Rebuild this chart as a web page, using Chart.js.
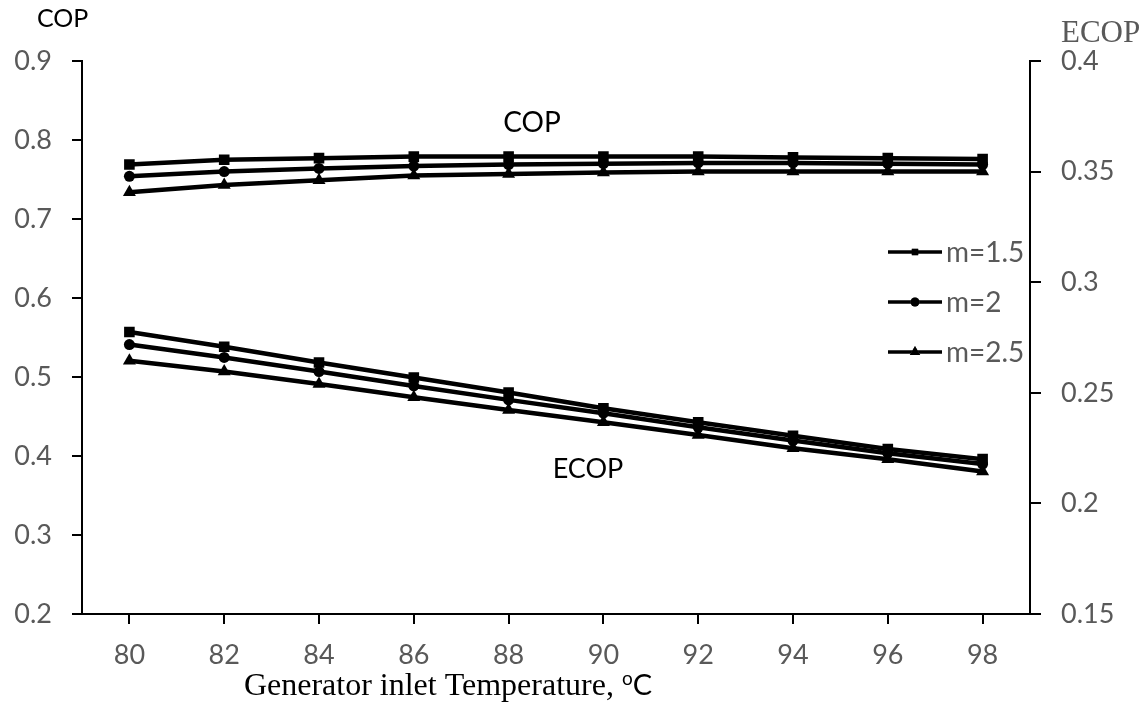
<!DOCTYPE html>
<html><head><meta charset="utf-8">
<script src="https://cdn.jsdelivr.net/npm/chart.js@4/dist/chart.umd.min.js"></script>
<style>html,body{margin:0;padding:0;background:#fff}#wrap{width:1147px;height:711px;position:relative}</style>
</head><body><div id="wrap"><canvas id="c" width="1147" height="711"></canvas></div>
<script>
const temperatures = ['80','82','84','86','88','90','92','94','96','98'];
const seriesLabels = ['m=1.5','m=2','m=2.5'];
const copM15 = [0.769,0.775,0.777,0.779,0.779,0.779,0.779,0.778,0.777,0.776];
const copM2  = [0.754,0.760,0.764,0.767,0.769,0.770,0.771,0.771,0.770,0.769];
const copM25 = [0.734,0.743,0.749,0.755,0.757,0.759,0.760,0.760,0.760,0.760];
const ecopM15 = [0.2775,0.2708,0.2637,0.2569,0.2501,0.2430,0.2367,0.2306,0.2246,0.2200];
const ecopM2  = [0.2718,0.2660,0.2596,0.2531,0.2468,0.2408,0.2344,0.2284,0.2227,0.2178];
const ecopM25 = [0.2645,0.2596,0.2540,0.2480,0.2422,0.2367,0.2309,0.2249,0.2200,0.2144];
const copTicks = [0.2,0.3,0.4,0.5,0.6,0.7,0.8,0.9];
const ecopTicks = [0.15,0.2,0.25,0.3,0.35,0.4];

const styles = ['rect','circle','triangle'];
const radii = [7.5,5.5,7.5];
function ds(label, data, i, axis, showLegend){
  return {label, data, yAxisID: axis, borderColor:'#000', backgroundColor:'#000',
    borderWidth:4.5, pointStyle:styles[i], pointRadius:radii[i], pointHoverRadius:radii[i],
    pointBorderWidth:0, tension:0, fill:false, legendIdx: showLegend ? i : -1};
}
const datasets = [
  ds(seriesLabels[0], copM15, 0, 'y', true),
  ds(seriesLabels[1], copM2, 1, 'y', true),
  ds(seriesLabels[2], copM25, 2, 'y', true),
  ds(seriesLabels[0], ecopM15, 0, 'y2', false),
  ds(seriesLabels[1], ecopM2, 1, 'y2', false),
  ds(seriesLabels[2], ecopM25, 2, 'y2', false)
];

const SANS = 'Lato, "Open Sans", sans-serif';
const SERIF = '"Liberation Serif", "DejaVu Serif", serif';
const GRAY = '#595959';

const overlay = {
  id:'overlay',
  afterDraw(chart){
    const ctx = chart.ctx;
    ctx.save();
    ctx.fillStyle = '#000';
    ctx.font = '25px ' + SANS;
    ctx.textAlign = 'left'; ctx.textBaseline = 'middle';
    ctx.fillText('COP', 37, 19);
    ctx.fillStyle = GRAY;
    ctx.font = '31px ' + SERIF;
    ctx.fillText('ECOP', 1061, 34);
    ctx.fillStyle = '#000';
    ctx.font = '28px ' + SANS;
    ctx.textAlign = 'center';
    ctx.fillText('COP', 532, 123);
    ctx.font = '27px ' + SANS;
    ctx.fillText('ECOP', 588, 469);
    // x title
    ctx.textAlign = 'left'; ctx.textBaseline = 'alphabetic';
    const t1 = 'Generator inlet Temperature, ';
    ctx.font = '32px ' + SERIF;
    const w1 = ctx.measureText(t1).width;
    ctx.font = '19px ' + SANS;
    const w2 = ctx.measureText('o').width;
    ctx.font = '29px ' + SANS;
    const w3 = ctx.measureText('C').width;
    let x = 448 - (w1 + w2 + w3)/2;
    const base = 695;
    ctx.font = '32px ' + SERIF; ctx.fillText(t1, x, base); x += w1;
    ctx.font = '19px ' + SANS; ctx.fillText('o', x, base - 10); x += w2;
    ctx.font = '29px ' + SANS; ctx.fillText('C', x, base);
    // legend
    const rows = [252, 302, 352];
    chart.data.datasets.forEach((d) => {
      if (d.legendIdx < 0) return;
      const y = rows[d.legendIdx];
      ctx.strokeStyle = '#000'; ctx.lineWidth = 3.5;
      ctx.beginPath(); ctx.moveTo(888, y); ctx.lineTo(942, y); ctx.stroke();
      Chart.helpers.drawPoint(ctx, {pointStyle: d.pointStyle, radius: d.legendIdx===2 ? 6 : 4.5, borderWidth: 0}, 915, y);
      ctx.fillStyle = '#000';
      ctx.fill();
      ctx.fillStyle = GRAY;
      ctx.font = '28px ' + SANS;
      ctx.textAlign = 'left'; ctx.textBaseline = 'middle';
      ctx.fillText(d.label, 946, y + 1);
    });
    ctx.restore();
  }
};

new Chart(document.getElementById('c'), {
  type:'line',
  data:{labels: temperatures, datasets},
  options:{
    responsive:false, animation:false,
    layout:{padding:{top:61, left:0, right:0, bottom:0}},
    plugins:{legend:{display:false}, tooltip:{enabled:false}},
    scales:{
      x:{
        offset:true,
        grid:{display:true, drawOnChartArea:false, drawTicks:true, tickLength:10, color:'#000', lineWidth:2, offset:false},
        border:{display:true, color:'#000', width:2},
        ticks:{color:GRAY, font:{family:SANS, size:27}, padding:15, maxRotation:0, autoSkip:false},
        afterFit(s){ s.height = 97; }
      },
      y:{
        position:'left', min:0.2, max:0.9,
        afterBuildTicks(s){ s.ticks = copTicks.map(v=>({value:v})); },
        grid:{display:true, drawOnChartArea:false, drawTicks:true, tickLength:10, color:'#000', lineWidth:2},
        border:{display:true, color:'#000', width:2},
        ticks:{color:GRAY, font:{family:SANS, size:27}, padding:20, callback:v=>String(Math.round(v*10)/10)},
        afterFit(s){ s.width = 82; }
      },
      y2:{
        position:'right', min:0.15, max:0.4,
        afterBuildTicks(s){ s.ticks = ecopTicks.map(v=>({value:v})); },
        grid:{display:true, drawOnChartArea:false, drawTicks:true, tickLength:11, color:'#000', lineWidth:2},
        border:{display:true, color:'#000', width:2},
        ticks:{color:GRAY, font:{family:SANS, size:27}, padding:20, callback:v=>String(Math.round(v*100)/100)},
        afterFit(s){ s.width = 117; }
      }
    }
  },
  plugins:[overlay]
});
</script></body></html>
